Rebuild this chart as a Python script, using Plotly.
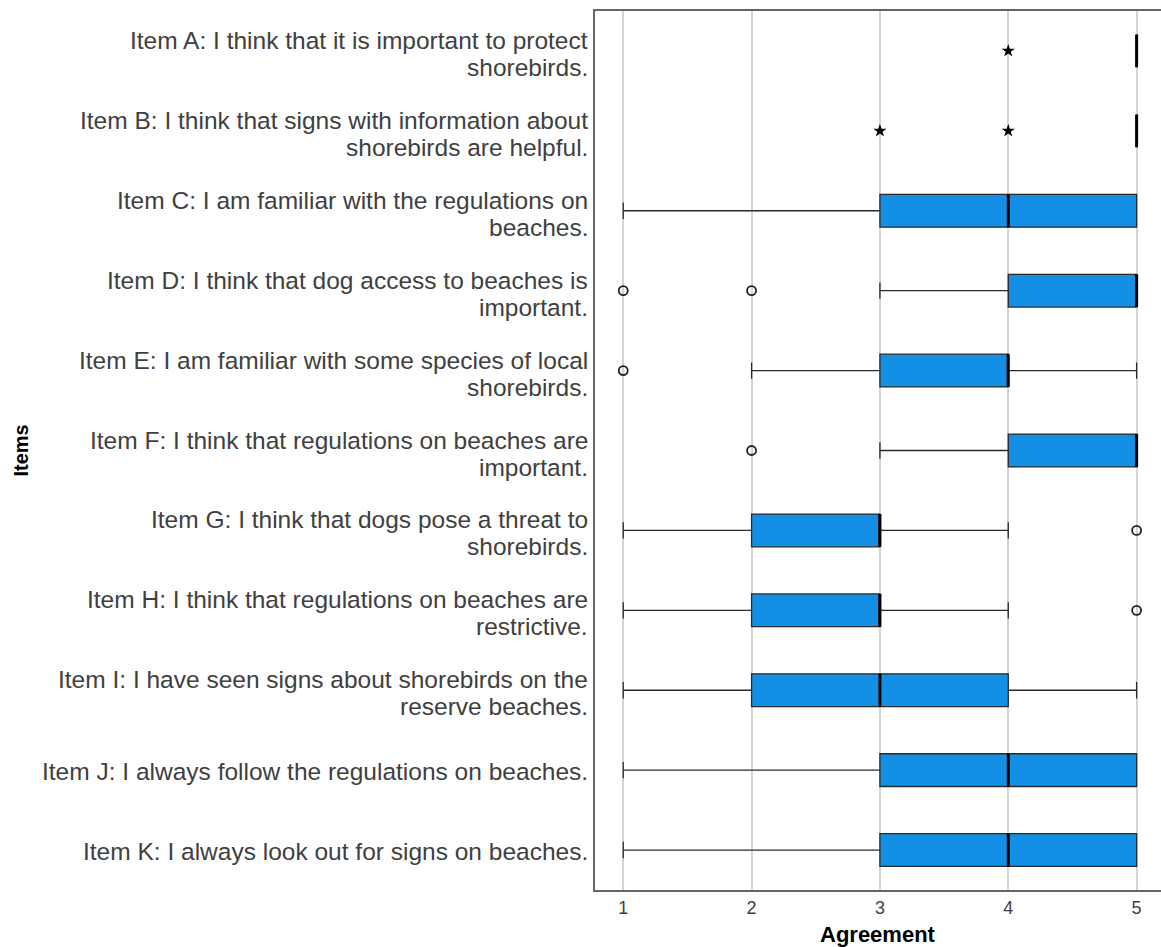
import plotly.graph_objects as go

# Survey items; "<br>" marks where the label wraps onto a second line
items = [
    "Item A: I think that it is important to protect<br>shorebirds.",
    "Item B: I think that signs with information about<br>shorebirds are helpful.",
    "Item C: I am familiar with the regulations on<br>beaches.",
    "Item D: I think that dog access to beaches is<br>important.",
    "Item E: I am familiar with some species of local<br>shorebirds.",
    "Item F: I think that regulations on beaches are<br>important.",
    "Item G: I think that dogs pose a threat to<br>shorebirds.",
    "Item H: I think that regulations on beaches are<br>restrictive.",
    "Item I: I have seen signs about shorebirds on the<br>reserve beaches.",
    "Item J: I always follow the regulations on beaches.",
    "Item K: I always look out for signs on beaches.",
]

# Five-number summaries per item (agreement, 1-5 Likert)
lower_whisker = [5, 5, 1, 3, 2, 3, 1, 1, 1, 1, 1]
q1_values     = [5, 5, 3, 4, 3, 4, 2, 2, 2, 3, 3]
median_values = [5, 5, 4, 5, 4, 5, 3, 3, 3, 4, 4]
q3_values     = [5, 5, 5, 5, 4, 5, 3, 3, 4, 5, 5]
upper_whisker = [5, 5, 5, 5, 5, 5, 4, 4, 5, 5, 5]

# Outliers (open circles) and extreme values (stars)
outlier_item_idx = [3, 3, 4, 5, 6, 7]
outlier_values   = [1, 2, 1, 2, 5, 5]
extreme_item_idx = [0, 1, 1]
extreme_values   = [4, 3, 4]

x_ticks = [1, 2, 3, 4, 5]

BOX_FILL = "#1390e6"
FONT = "Liberation Sans, Arial, sans-serif"
LABEL_SIZE = 24.5
LINE_GAP = 27  # px between the two lines of a wrapped label

fig = go.Figure()

for i, label in enumerate(items):
    fig.add_trace(go.Box(
        y=[i],
        q1=[q1_values[i]], median=[median_values[i]], q3=[q3_values[i]],
        lowerfence=[lower_whisker[i]], upperfence=[upper_whisker[i]],
        orientation="h",
        width=0.41,
        whiskerwidth=0.5,
        fillcolor=BOX_FILL,
        line=dict(color="#2a2a2a", width=1.3),
        boxpoints=False,
        showlegend=False,
        hoverinfo="skip",
    ))
    # heavier median stroke
    m = median_values[i]
    fig.add_trace(go.Box(
        y=[i],
        q1=[m], median=[m], q3=[m],
        lowerfence=[m], upperfence=[m],
        orientation="h",
        width=0.41,
        whiskerwidth=0,
        fillcolor="rgba(0,0,0,0)",
        line=dict(color="#000000", width=3),
        boxpoints=False,
        showlegend=False,
        hoverinfo="skip",
    ))

fig.add_trace(go.Scatter(
    x=outlier_values,
    y=outlier_item_idx,
    mode="markers",
    marker=dict(symbol="circle-open", size=9, color="#222222", line=dict(width=1.8)),
    showlegend=False,
    hoverinfo="skip",
))
fig.add_trace(go.Scatter(
    x=extreme_values,
    y=extreme_item_idx,
    mode="markers",
    marker=dict(symbol="star", size=10, color="#000000"),
    showlegend=False,
    hoverinfo="skip",
))

# Item labels, right-aligned against the axis with tight line spacing
annotations = []
for i, label in enumerate(items):
    lines = label.split("<br>")
    n = len(lines)
    for j, line in enumerate(lines):
        offset = (j - (n - 1) / 2) * LINE_GAP + (3 if n > 1 else 1)
        annotations.append(dict(
            text=line, xref="paper", yref="y", x=0, y=i,
            xanchor="right", yanchor="middle", xshift=-6, yshift=-offset,
            showarrow=False, borderpad=0,
            font=dict(size=LABEL_SIZE, color="#404040", family=FONT),
        ))

annotations += [
    dict(text="<b>Agreement</b>", xref="paper", yref="paper",
         x=0.5, y=0, xanchor="center", yanchor="top", yshift=-31,
         showarrow=False, borderpad=0,
         font=dict(size=22, color="#000000", family=FONT)),
    dict(text="<b>Items</b>", xref="paper", yref="paper",
         x=0, y=0.5, xanchor="center", yanchor="middle", xshift=-575,
         textangle=-90, showarrow=False,
         font=dict(size=20, color="#000000", family=FONT)),
]

fig.update_layout(
    width=1161,
    height=947,
    margin=dict(l=595, r=0, t=11, b=57),
    paper_bgcolor="white",
    plot_bgcolor="white",
    boxmode="overlay",
    font=dict(family=FONT, color="#404040"),
    xaxis=dict(
        range=[0.78, 5.19],
        tickvals=x_ticks,
        ticktext=[str(v) for v in x_ticks],
        tickfont=dict(size=18, color="#404040"),
        showgrid=True,
        gridcolor="#d4d4d4",
        gridwidth=1.5,
        zeroline=False,
        showline=True,
        linecolor="#666666",
        linewidth=2,
        mirror=True,
        ticks="",
    ),
    yaxis=dict(
        range=[len(items) - 0.5, -0.5],
        showticklabels=False,
        showgrid=False,
        zeroline=False,
        showline=True,
        linecolor="#666666",
        linewidth=2,
        ticks="",
    ),
    annotations=annotations,
)

fig.write_html("out.html")
